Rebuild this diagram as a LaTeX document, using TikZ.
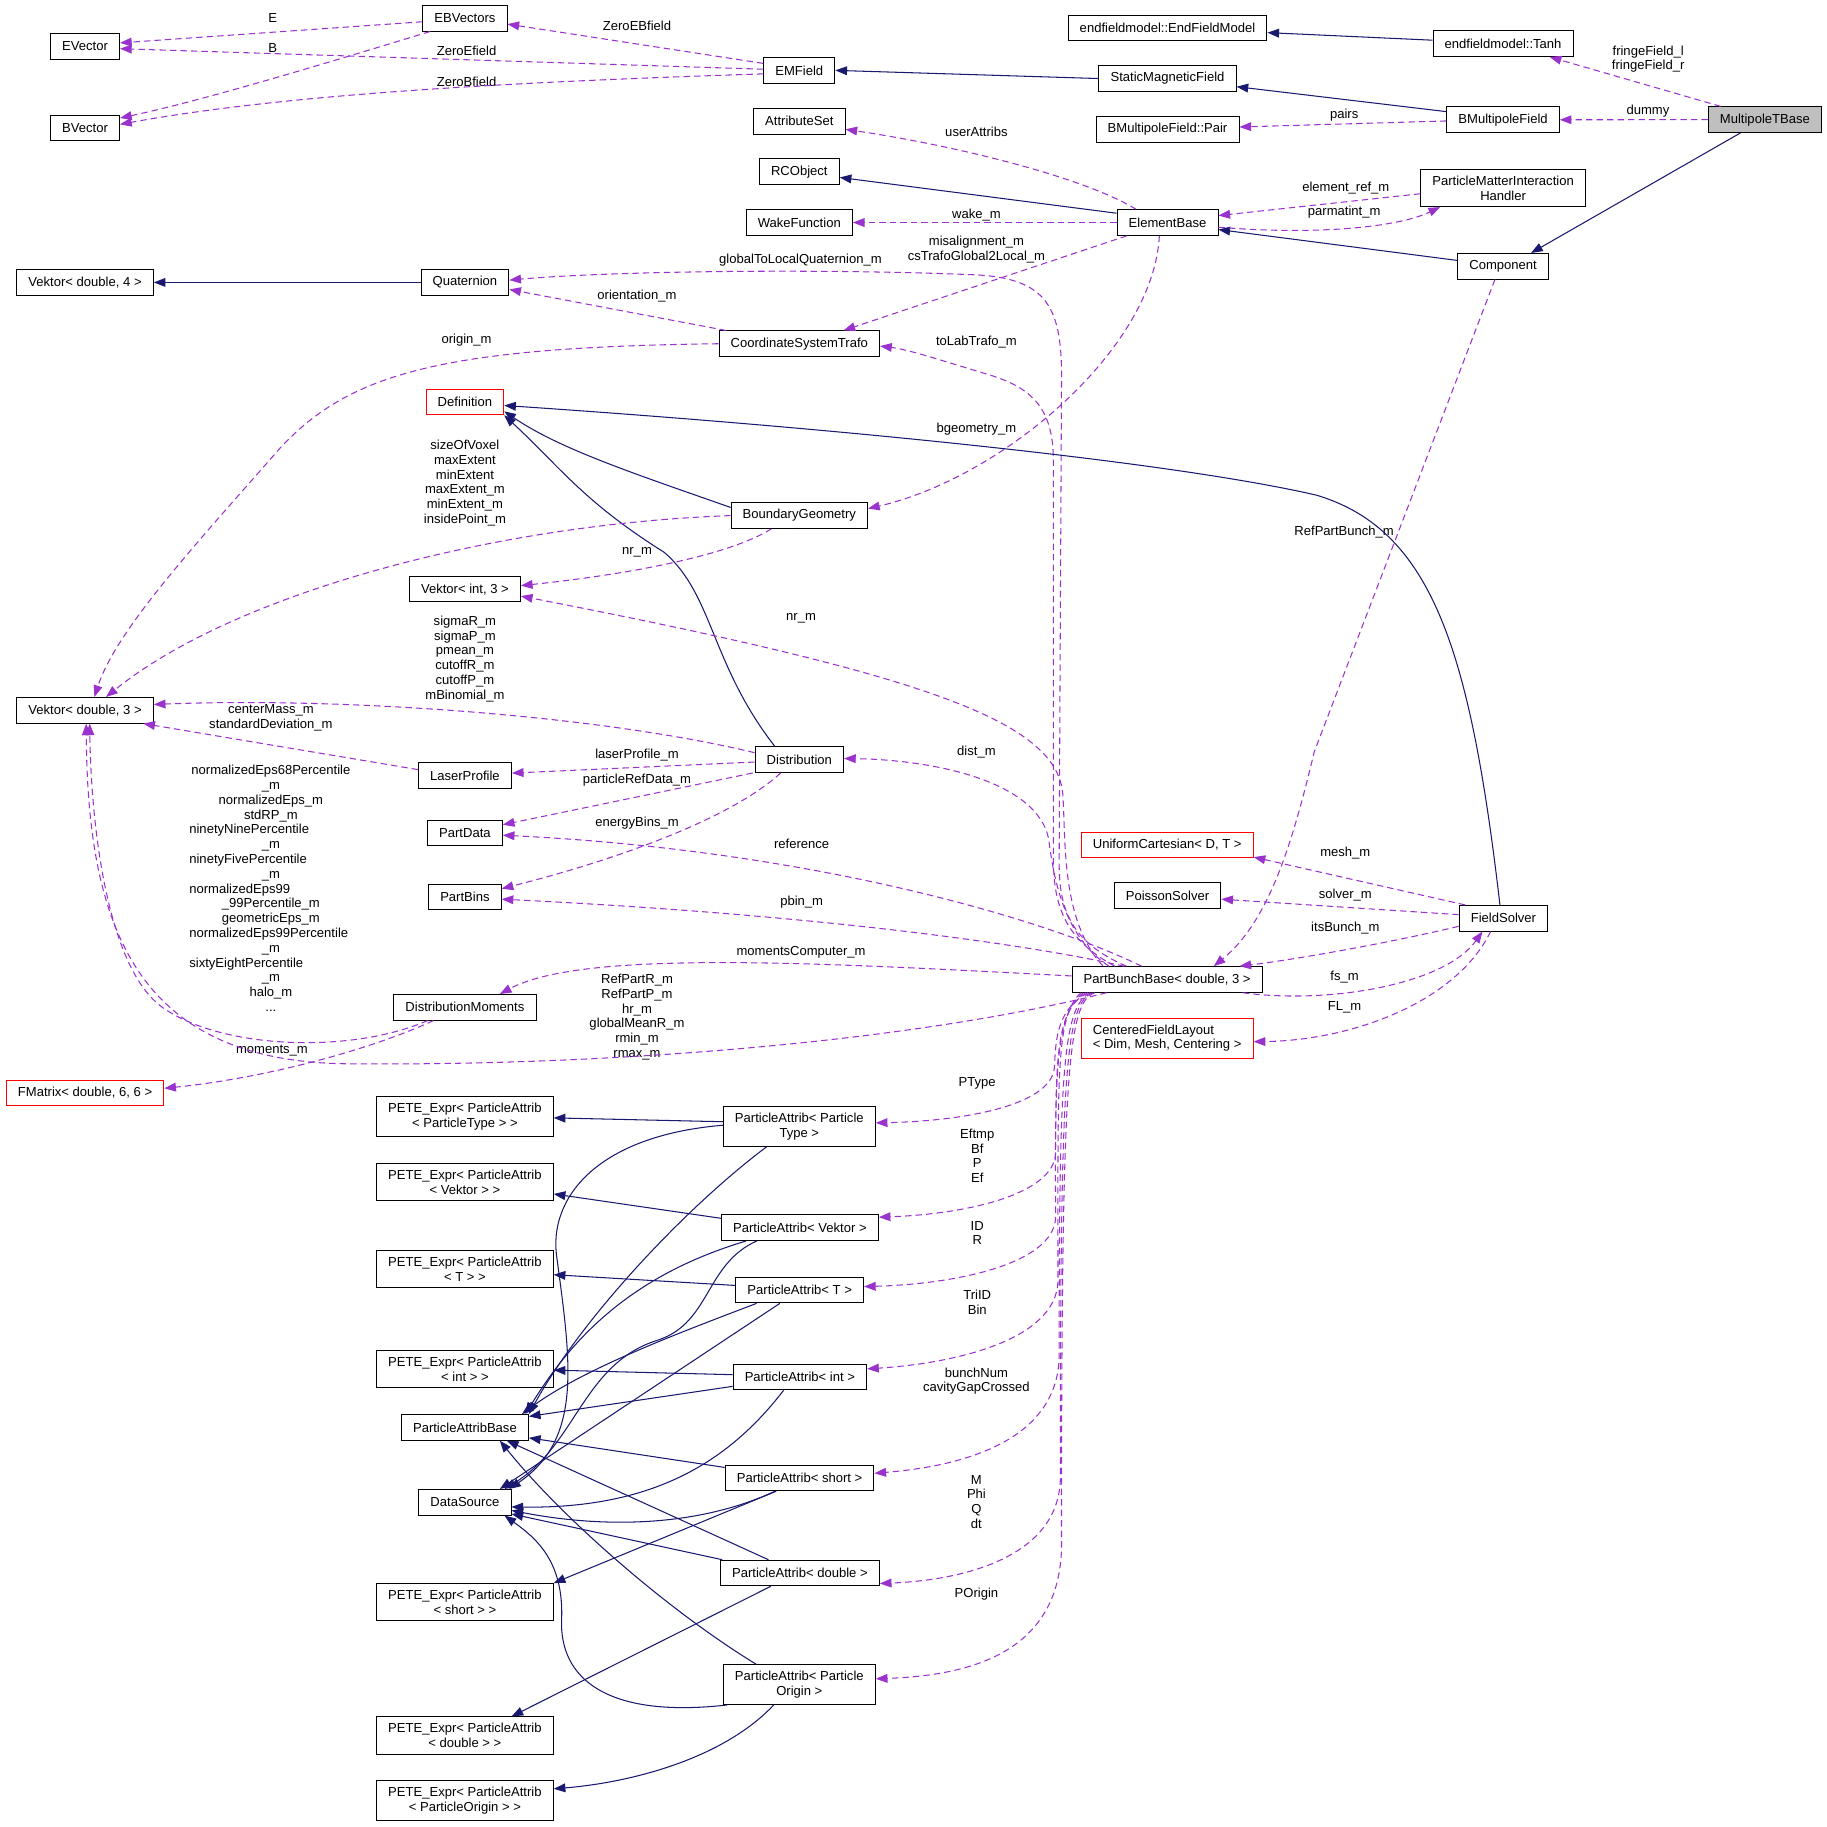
\documentclass[tikz,border=0pt]{standalone}
\usepackage{fontspec}
\setmainfont{Liberation Sans}
\usepackage{tikz}
\usetikzlibrary{arrows.meta}
\definecolor{edgeblue}{HTML}{191970}
\definecolor{edgepurple}{HTML}{9A32CD}
\definecolor{rootgray}{HTML}{BFBFBF}
\newcommand{\lftln}[1]{\makebox[140pt][l]{#1}}

\begin{document}
\begin{tikzpicture}[x=1pt, y=-1pt, font=\fontsize{11.2}{12.7}\selectfont,
        cls/.style={draw, line width=0.8pt, fill=white, inner xsep=10pt, inner ysep=5.5pt, minimum height=22pt, align=center},
        tmpl/.style={cls, draw=red},
        root/.style={cls, fill=rootgray},
        inh/.style={draw=edgeblue, line width=0.9pt, -{Triangle[length=10pt,width=7.5pt]}},
        mbr/.style={draw=edgepurple, line width=0.9pt, dash pattern=on 5.5pt off 3.5pt, -{Triangle[length=10pt,width=7.5pt]}},
        lbl/.style={inner sep=0pt, align=center}]
                \useasboundingbox (0,0) rectangle (1568,1568);

                \node[cls] (ebv) at (399,15.7) {EBVectors};
                \node[cls] (evec) at (73,39.8) {EVector};
                \node[cls] (bvec) at (73,109.7) {BVector};
                \node[cls] (emf) at (686,60.4) {EMField};
                \node[cls] (efm) at (1002,24) {endfieldmodel::EndFieldModel};
                \node[cls] (tanh) at (1290,37.5) {endfieldmodel::Tanh};
                \node[cls] (smf) at (1002,67.4) {StaticMagneticField};
                \node[cls] (pair) at (1002,111) {BMultipoleField::Pair};
                \node[cls] (bmf) at (1290,102.8) {BMultipoleField};
                \node[root] (mtb) at (1514.7,102.7) {MultipoleTBase};
                \node[cls] (aset) at (686,104) {AttributeSet};
                \node[cls] (rco) at (686,147.3) {RCObject};
                \node[cls] (wake) at (686,191) {WakeFunction};
                \node[cls] (eb) at (1002,191) {ElementBase};
                \node[cls] (pmih) at (1290,161.3) {ParticleMatterInteraction\\Handler};
                \node[cls] (comp) at (1290,228.5) {Component};
                \node[cls] (vd4) at (73,242.4) {Vektor< double, 4 >};
                \node[cls] (quat) at (399,242.4) {Quaternion};
                \node[cls] (cst) at (686,295) {CoordinateSystemTrafo};
                \node[tmpl] (def) at (399,345) {Definition};
                \node[cls] (bg) at (686,442.5) {BoundaryGeometry};
                \node[cls] (vi3) at (399,505.6) {Vektor< int, 3 >};
                \node[cls] (vd3) at (73,609.6) {Vektor< double, 3 >};
                \node[cls] (lp) at (399,665.5) {LaserProfile};
                \node[cls] (dist) at (686,652) {Distribution};
                \node[cls] (pdata) at (399,714.8) {PartData};
                \node[cls] (pbins) at (399,769.7) {PartBins};
                \node[cls] (dm) at (399,864.5) {DistributionMoments};
                \node[tmpl] (fmat) at (73,938) {FMatrix< double, 6, 6 >};
                \node[tmpl] (uc) at (1001.7,725.2) {UniformCartesian< D, T >};
                \node[cls] (ps) at (1002,768.7) {PoissonSolver};
                \node[cls] (fs) at (1290.3,788) {FieldSolver};
                \node[cls] (pbb) at (1001.7,840.6) {PartBunchBase< double, 3 >};
                \node[tmpl, align=left] (cfl) at (1001.7,891) {CenteredFieldLayout\\< Dim, Mesh, Centering >};

                \node[cls] (pePT) at (399,958.4) {PETE\_Expr< ParticleAttrib\\< ParticleType > >};
                \node[cls] (paPT) at (686,966.7) {ParticleAttrib< Particle\\Type >};
                \node[cls] (peV) at (399,1014.7) {PETE\_Expr< ParticleAttrib\\< Vektor > >};
                \node[cls] (paV) at (686.5,1053.6) {ParticleAttrib< Vektor >};
                \node[cls] (peT) at (399,1089) {PETE\_Expr< ParticleAttrib\\< T > >};
                \node[cls] (paT) at (686.3,1107.2) {ParticleAttrib< T >};
                \node[cls] (peI) at (399,1174.9) {PETE\_Expr< ParticleAttrib\\< int > >};
                \node[cls] (paI) at (686.5,1181.8) {ParticleAttrib< int >};
                \node[cls] (pab) at (399,1225) {ParticleAttribBase};
                \node[cls] (ds) at (399,1289.3) {DataSource};
                \node[cls] (paS) at (686.2,1268.4) {ParticleAttrib< short >};
                \node[cls] (peS) at (399,1375) {PETE\_Expr< ParticleAttrib\\< short > >};
                \node[cls] (paD) at (686.5,1350) {ParticleAttrib< double >};
                \node[cls] (peD) at (399,1489.5) {PETE\_Expr< ParticleAttrib\\< double > >};
                \node[cls] (paO) at (686,1445.8) {ParticleAttrib< Particle\\Origin >};
                \node[cls] (peO) at (399,1545.2) {PETE\_Expr< ParticleAttrib\\< ParticleOrigin > >};

                \node[lbl] (lE) at (234,15.7) {E};
                \node[lbl] (lB) at (234,41.5) {B};
                \node[lbl] (lZEB) at (546.7,22.3) {ZeroEBfield};
                \node[lbl] (lZE) at (400.4,43.5) {ZeroEfield};
                \node[lbl] (lZB) at (400.4,70.6) {ZeroBfield};
                \node[lbl] (lFr) at (1414.5,50.8) {fringeField\_l\\fringeField\_r};
                \node[lbl] (lDum) at (1414.3,95.8) {dummy};
                \node[lbl] (lPairs) at (1153.6,98.7) {pairs};
                \node[lbl] (lUA) at (838,113) {userAttribs};
                \node[lbl] (lERef) at (1155,161) {element\_ref\_m};
                \node[lbl] (lPM) at (1153.6,182.2) {parmatint\_m};
                \node[lbl] (lWake) at (838,184.5) {wake\_m};
                \node[lbl] (lMis) at (838,214.2) {misalignment\_m\\csTrafoGlobal2Local\_m};
                \node[lbl] (lGQ) at (687,223.6) {globalToLocalQuaternion\_m};
                \node[lbl] (lOri) at (546.7,253.7) {orientation\_m};
                \node[lbl] (lOrig) at (400.4,291.7) {origin\_m};
                \node[lbl] (lTLT) at (838,293.7) {toLabTrafo\_m};
                \node[lbl] (lBG) at (838,368) {bgeometry\_m};
                \node[lbl] (lSOV) at (399,414.5) {sizeOfVoxel\\maxExtent\\minExtent\\maxExtent\_m\\minExtent\_m\\insidePoint\_m};
                \node[lbl] (lRPB) at (1153.6,456.7) {RefPartBunch\_m};
                \node[lbl] (lNr1) at (546.7,474.4) {nr\_m};
                \node[lbl] (lNr2) at (687.5,530.8) {nr\_m};
                \node[lbl] (lSig) at (399,565.4) {sigmaR\_m\\sigmaP\_m\\pmean\_m\\cutoffR\_m\\cutoffP\_m\\mBinomial\_m};
                \node[lbl] (lCM) at (232.5,615.9) {centerMass\_m\\standardDeviation\_m};
                \node[lbl] (lDist) at (838,645.5) {dist\_m};
                \node[lbl] (lLP) at (546.7,648.3) {laserProfile\_m};
                \node[lbl] (lPRD) at (546.7,669.7) {particleRefData\_m};
                \node[lbl] (lEB) at (546.7,706.3) {energyBins\_m};
                \node[lbl] (lRef) at (688,724) {reference};
                \node[lbl] (lMesh) at (1154.6,731.8) {mesh\_m};
                \node[lbl, text width=140pt] (lEps) at (232.5,762.4) {normalizedEps68Percentile\\\_m\\normalizedEps\_m\\stdRP\_m\\\lftln{ninetyNinePercentile}\\\_m\\\lftln{ninetyFivePercentile}\\\_m\\\lftln{normalizedEps99}\\\_99Percentile\_m\\geometricEps\_m\\\lftln{normalizedEps99Percentile}\\\_m\\\lftln{sixtyEightPercentile}\\\_m\\halo\_m\\...};
                \node[lbl] (lSolv) at (1154.6,768) {solver\_m};
                \node[lbl] (lPbin) at (688,774.4) {pbin\_m};
                \node[lbl] (lItsB) at (1154.6,796.7) {itsBunch\_m};
                \node[lbl] (lMC) at (687.5,817.3) {momentsComputer\_m};
                \node[lbl] (lFs) at (1154,838.2) {fs\_m};
                \node[lbl] (lFL) at (1154,864.5) {FL\_m};
                \node[lbl] (lRPR) at (546.7,872.8) {RefPartR\_m\\RefPartP\_m\\hr\_m\\globalMeanR\_m\\rmin\_m\\rmax\_m};
                \node[lbl] (lMom) at (233.4,901.4) {moments\_m};
                \node[lbl] (lPT) at (838.6,929.4) {PType};
                \node[lbl] (lEf) at (838.7,992) {Eftmp\\Bf\\P\\Ef};
                \node[lbl] (lID) at (838.7,1058.2) {ID\\R};
                \node[lbl] (lTri) at (838.7,1117.5) {TriID\\Bin};
                \node[lbl] (lBN) at (838,1185.4) {bunchNum\\cavityGapCrossed};
                \node[lbl] (lM) at (838,1288.9) {M\\Phi\\Q\\dt};
                \node[lbl] (lPO) at (838,1367.9) {POrigin};

                \draw[mbr] ([yshift=-3pt]ebv.west) -- ([yshift=3pt]evec.east);
                \draw[mbr] ([xshift=-30pt]ebv.south) .. controls (300,48) and (180,85) .. ([yshift=-3pt]bvec.north east);
                \draw[mbr] ([yshift=6pt]emf.west) -- ([yshift=-5pt]ebv.east);
                \draw[mbr] ([yshift=1pt]emf.west) -- ([yshift=-2pt]evec.east);
                \draw[mbr] ([yshift=-3pt]emf.west) .. controls (450,70) and (250,80) .. ([yshift=3pt]bvec.east);
                \draw[inh] (smf.west) -- (emf.east);
                \draw[inh] ([yshift=3pt]tanh.west) -- ([yshift=-4pt]efm.east);
                \draw[inh] ([yshift=7pt]bmf.west) -- ([yshift=-7pt]smf.east);
                \draw[mbr] ([yshift=-1pt]bmf.west) -- ([yshift=2pt]pair.east);
                \draw[mbr] ([xshift=-38pt]mtb.north) -- ([xshift=40pt]tanh.south);
                \draw[mbr] (mtb.west) -- (bmf.east);
                \draw[inh] ([xshift=-21pt]mtb.south) -- ([xshift=24pt]comp.north);
                \draw[inh] ([yshift=5pt]comp.west) -- ([yshift=-6pt]eb.east);
                \draw[inh] ([yshift=8pt]eb.west) -- ([yshift=-5pt]rco.east);
                \draw[mbr] ([xshift=-27pt]eb.north) .. controls (930,152) and (820,125) .. ([yshift=-7pt]aset.east);
                \draw[mbr] (eb.west) -- (wake.east);
                \draw[mbr] ([yshift=-4pt]eb.east) .. controls (1130,202) and (1200,195) .. ([xshift=-54pt]pmih.south);
                \draw[mbr] ([yshift=-5pt]pmih.west) -- ([yshift=6pt]eb.east);
                \draw[mbr] ([xshift=-35pt]eb.south) -- ([xshift=38pt]cst.north);
                \draw[mbr] ([xshift=-7pt]eb.south) .. controls (990,300) and (860,410) .. ([yshift=6pt]bg.east);
                \draw[mbr] ([xshift=-63pt]cst.north) -- ([yshift=-6pt]quat.east);
                \draw[inh] (quat.west) -- (vd4.east);
                \draw[mbr] ([xshift=-35pt]pbb.north) .. controls (918,808) and (909,780) .. (909,740) -- (911,330) .. controls (912,265) and (900,240) .. (840,236) .. controls (700,230) and (520,233) .. ([yshift=2pt]quat.east);
                \draw[mbr] ([xshift=-45pt]pbb.north) .. controls (912,805) and (904,775) .. (904,735) -- (904,395) .. controls (904,350) and (885,333) .. (850,322) .. controls (810,310) and (780,300) .. ([yshift=-2pt]cst.east);
                \draw[mbr] (cst.west) .. controls (380,298) and (300,320) .. (240,385) .. controls (170,465) and (100,540) .. ([xshift=8pt]vd3.north);
                \draw[inh] ([xshift=-3pt]fs.north) .. controls (1262,560) and (1230,455) .. (1130,425) .. controls (1000,395) and (700,366) .. ([yshift=-3pt]def.east);
                \draw[inh] ([yshift=7pt]bg.west) .. controls (540,405) and (480,385) .. ([yshift=-8pt]def.east);
                \draw[inh] ([xshift=-21pt]dist.north) .. controls (610,570) and (612,510) .. (570,474) .. controls (500,430) and (480,400) .. (def.south east);
                \draw[mbr] (bg.west) .. controls (420,450) and (200,510) .. ([xshift=18pt]vd3.north);
                \draw[mbr] ([xshift=-24pt]bg.south) .. controls (620,480) and (520,495) .. ([yshift=3pt]vi3.east);
                \draw[mbr] ([xshift=-55pt]pbb.north) .. controls (910,790) and (915,720) .. (912,680) .. controls (905,620) and (800,580) .. ([yshift=-6pt]vi3.east);
                \draw[mbr] ([xshift=-50pt]pbb.north) .. controls (915,805) and (905,760) .. (900,720) .. controls (890,670) and (800,652) .. ([yshift=1pt]dist.east);
                \draw[mbr] ([xshift=-22pt]pbb.north) .. controls (900,790) and (700,730) .. ([yshift=-2pt]pdata.east);
                \draw[mbr] ([xshift=-37pt]pbb.north) .. controls (880,810) and (700,785) .. ([yshift=-2pt]pbins.east);
                \draw[mbr] ([yshift=3pt]pbb.west) .. controls (700,826) and (500,815) .. ([xshift=30pt]dm.north);
                \draw[mbr] ([xshift=-52pt]pbb.south) .. controls (800,890) and (550,915) .. (300,913) .. controls (120,912) and (75,800) .. ([xshift=1pt]vd3.south);
                \draw[mbr] ([xshift=-32pt]dm.south) .. controls (300,905) and (190,900) .. (140,865) .. controls (90,830) and (78,700) .. ([xshift=4pt]vd3.south);
                \draw[mbr] ([xshift=-27pt]dm.south) .. controls (320,900) and (230,925) .. ([yshift=4pt]fmat.east);
                \draw[mbr] ([yshift=6pt]dist.west) .. controls (520,615) and (300,598) .. ([yshift=5pt]vd3.east);
                \draw[mbr] ([yshift=5pt]lp.west) -- ([xshift=50pt]vd3.south);
                \draw[mbr] ([yshift=-2pt]dist.west) -- ([yshift=2pt]lp.east);
                \draw[mbr] ([xshift=-40pt]dist.south) -- ([yshift=7pt]pdata.east);
                \draw[mbr] ([xshift=-16pt]dist.south) .. controls (630,700) and (540,735) .. ([yshift=7pt]pbins.east);
                \draw[mbr] ([xshift=-7pt]comp.south) -- (1128,645) .. controls (1110,720) and (1090,790) .. ([xshift=40pt]pbb.north);
                \draw[mbr] ([xshift=-33pt]fs.north) -- ([yshift=1pt]uc.south east);
                \draw[mbr] ([yshift=3pt]fs.west) -- ([yshift=-3pt]ps.east);
                \draw[mbr] ([yshift=-7pt]fs.west) .. controls (1180,812) and (1100,825) .. ([xshift=62pt]pbb.north);
                \draw[mbr] ([xshift=65pt]pbb.south) .. controls (1140,862) and (1240,845) .. ([xshift=-18pt]fs.south);
                \draw[mbr] ([xshift=-11pt]fs.south) .. controls (1250,860) and (1160,893) .. ([yshift=-3pt]cfl.east);

                \draw[mbr] ([xshift=-68pt]pbb.south) .. controls (908,866) and (906,890) .. (905,915) .. controls (904,948) and (830,962) .. ([yshift=3pt]paPT.east);
                \draw[mbr] ([xshift=-70pt]pbb.south) .. controls (908,868) and (906,900) .. (906,990) .. controls (904,1025) and (830,1042) .. ([yshift=9pt]paV.east);
                \draw[mbr] ([xshift=-72pt]pbb.south) .. controls (907,870) and (905,910) .. (906,1045) .. controls (904,1085) and (820,1102) .. ([yshift=3pt]paT.east);
                \draw[mbr] ([xshift=-74pt]pbb.south) .. controls (906,872) and (908,920) .. (908,1100) .. controls (906,1150) and (820,1170) .. ([yshift=7pt]paI.east);
                \draw[mbr] ([xshift=-66pt]pbb.south) .. controls (912,864) and (909,920) .. (909,1165) .. controls (907,1235) and (830,1258) .. ([yshift=4pt]paS.east);
                \draw[mbr] ([xshift=-64pt]pbb.south) .. controls (914,862) and (910,920) .. (910,1270) .. controls (908,1335) and (830,1356) .. ([yshift=-9pt]paD.east);
                \draw[mbr] ([xshift=-62pt]pbb.south) .. controls (916,860) and (911,920) .. (911,1330) .. controls (908,1420) and (830,1438) .. ([yshift=5pt]paO.east);

                \draw[inh] ([yshift=4pt]paPT.west) -- ([yshift=-1pt]pePT.east);
                \draw[inh] ([yshift=1pt]paPT.west) .. controls (510,975) and (470,1030) .. (478,1080) .. controls (490,1170) and (500,1235) .. ([xshift=-2pt]ds.north east);
                \draw[inh] ([xshift=-28pt]paPT.south) .. controls (590,1035) and (500,1130) .. (pab.north east);
                \draw[inh] ([yshift=8pt]paV.west) -- ([yshift=-10pt]peV.east);
                \draw[inh] ([xshift=-46pt]paV.south) .. controls (540,1095) and (490,1150) .. ([xshift=-3pt]pab.north east);
                \draw[inh] ([xshift=-37pt]paV.south) .. controls (605,1085) and (610,1135) .. (565,1150) .. controls (500,1170) and (495,1240) .. ([xshift=-6pt]ds.north east);
                \draw[inh] ([yshift=4pt]paT.west) -- ([yshift=-5pt]peT.east);
                \draw[inh] ([xshift=-37pt]paT.south) .. controls (580,1145) and (500,1175) .. ([xshift=-6pt]pab.north east);
                \draw[inh] ([xshift=-17pt]paT.south) -- ([xshift=-10pt]ds.north east);
                \draw[inh] ([yshift=2pt]paI.west) -- ([yshift=-1pt]peI.east);
                \draw[inh] ([yshift=-8pt]paI.west) -- ([yshift=-2pt]pab.north east);
                \draw[inh] ([xshift=-14pt]paI.south) .. controls (625,1255) and (560,1295) .. ([yshift=-4pt]ds.east);
                \draw[inh] ([yshift=9pt]paS.west) -- ([yshift=-9pt]pab.east);
                \draw[inh] ([xshift=-21pt]paS.south) .. controls (600,1310) and (520,1312) .. ([yshift=-7pt]ds.east);
                \draw[inh] ([xshift=-20pt]paS.south) -- (peS.north east);
                \draw[inh] ([xshift=2pt]paD.north west) -- ([yshift=-10pt]ds.east);
                \draw[inh] ([xshift=-27pt]paD.north) -- ([xshift=36pt]pab.south);
                \draw[inh] ([xshift=-25pt]paD.south) -- ([xshift=40pt]peD.north);
                \draw[inh] ([xshift=-37pt]paO.north) .. controls (570,1380) and (480,1300) .. ([xshift=30pt]pab.south);
                \draw[inh] ([xshift=-62pt]paO.south) .. controls (520,1475) and (480,1440) .. (482,1390) .. controls (484,1340) and (460,1320) .. ([xshift=34pt]ds.south);
                \draw[inh] ([xshift=-22pt]paO.south) .. controls (620,1510) and (540,1530) .. ([yshift=10pt]peO.east);
\end{tikzpicture}
\end{document}
